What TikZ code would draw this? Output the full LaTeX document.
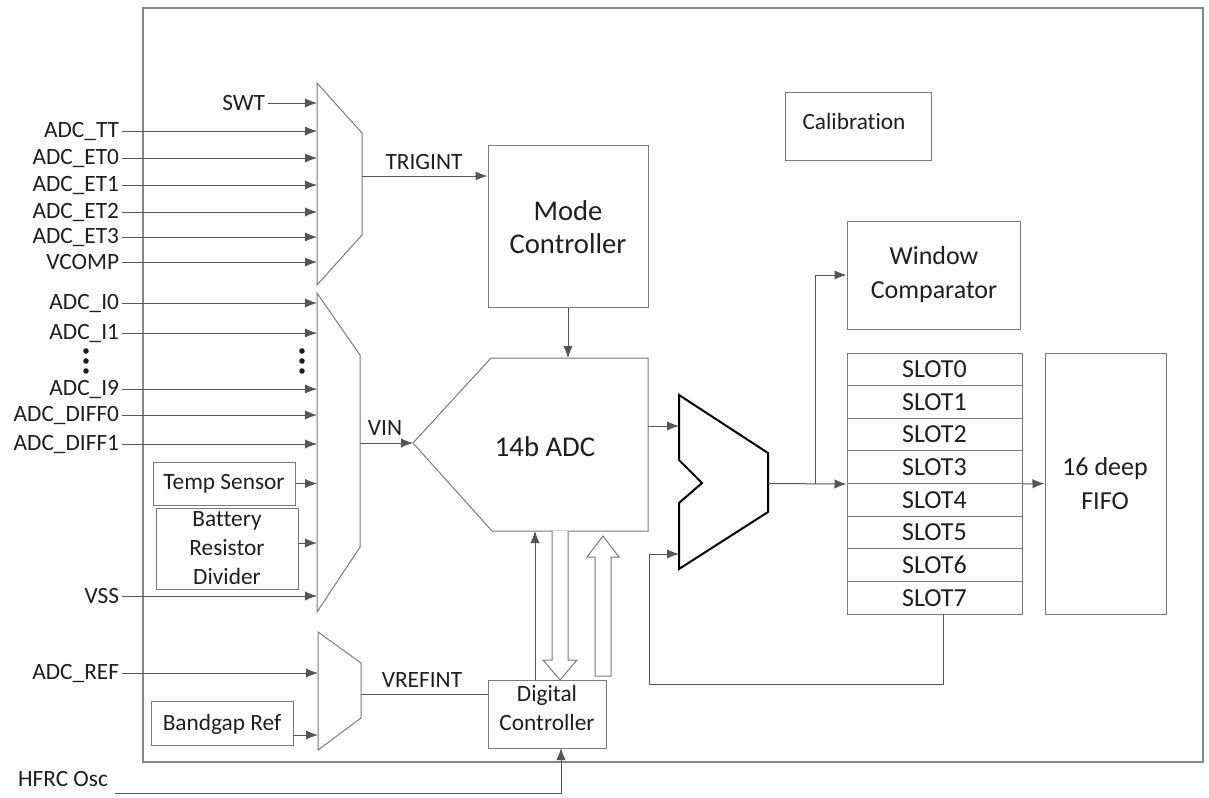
\documentclass[tikz,border=0pt]{standalone}
\usepackage{fontspec}
\setmainfont{Carlito}[Ligatures=NoCommon]
\usetikzlibrary{arrows.meta,fit,calc}
\definecolor{ln}{HTML}{555555}
\definecolor{bx}{HTML}{7A7A7A}
\definecolor{tx}{HTML}{1E1E1E}
\tikzset{
  arr/.style={draw=ln, line width=0.75pt, -{Latex[length=9pt,width=7pt]}},
  wire/.style={draw=ln, line width=0.75pt},
  box/.style={draw=bx, line width=0.75pt, inner sep=0pt},
  txt/.style={text=tx, align=center, inner sep=0pt},
  muxs/.style={draw=bx, line width=0.75pt, fill=white},
  omuxs/.style={draw=black, line width=1.5pt, line join=miter},
  hollow/.style={draw=bx, line width=0.75pt, fill=white},
  lbl/.style={text=tx, font=\fontsize{17.5pt}{21pt}\selectfont, inner xsep=2pt, inner ysep=0pt},
  bigf/.style={font=\fontsize{21.5pt}{24.75pt}\selectfont},
  midf/.style={font=\fontsize{19.5pt}{25.5pt}\selectfont},
  smf/.style={font=\fontsize{17.5pt}{22pt}\selectfont},
}
\begin{document}
\begin{tikzpicture}[x=0.75pt,y=-0.75pt]
\useasboundingbox (0,0) rectangle (1209,797);
% outer chip boundary
\node[box, draw=bx!90, line width=1.1pt, fit={(143,8) (1203,762)}] (chip) {};

% ---------- trigger mux ----------
\draw[muxs] (317,83) -- (362,133) -- (362,235) -- (317,285) -- cycle;
\coordinate (m1o) at (362,176);
\node[lbl, anchor=east] (swt) at (268,103) {SWT};
\coordinate (swt-in) at (317,103);
\draw[arr] (swt.east) -- (swt-in);
\foreach \y/\t/\n in {131/ADC\_TT/tt, 158/ADC\_ET0/et0, 185/ADC\_ET1/et1, 212/ADC\_ET2/et2, 237/ADC\_ET3/et3, 262/VCOMP/vcomp}{
  \node[lbl, anchor=east] (\n) at (122,\y) {\t};
  \coordinate (\n-in) at (317,\y);
  \draw[arr] (\n.east) -- (\n-in);
}

% ---------- VIN mux ----------
\draw[muxs] (317,293) -- (360,355) -- (360,547) -- (317,612) -- cycle;
\coordinate (m2x) at (317,443);
\coordinate (m2o) at (360,443);
\foreach \y/\t/\n in {303/ADC\_I0/i0, 333/ADC\_I1/i1, 389/ADC\_I9/i9, 415/ADC\_DIFF0/d0, 444/ADC\_DIFF1/d1, 596/VSS/vss}{
  \node[lbl, anchor=east] (\n) at (122,\y) {\t};
  \coordinate (\n-in) at (317,\y);
  \draw[arr] (\n.east) -- (\n-in);
}
\foreach \x in {86,302}{
  \foreach \y in {351,361,371}{ \fill[tx] (\x,\y) circle[radius=2.1pt]; }
}
\node[box, fit={(153,462) (295,505)}] (temp) {};
\node[txt, smf] (temp-t) at (224,484) {Temp Sensor};
\node[box, fit={(156,508) (298,589)}] (batt) {};
\node[txt, smf] (batt-t) at (227,548) {Battery\\Resistor\\Divider};
\draw[arr] (temp.east) -- (temp.east -| m2x);
\coordinate (batt-o) at (298,543);
\draw[arr] (batt-o) -- (batt-o -| m2x);

% ---------- reference mux ----------
\draw[muxs] (318,632) -- (361,663) -- (361,718) -- (318,750) -- cycle;
\coordinate (m3o) at (361,694);
\node[lbl, anchor=east] (aref) at (122,673) {ADC\_REF};
\coordinate (aref-in) at (318,673);
\draw[arr] (aref.east) -- (aref-in);
\node[box, fit={(151,701) (293,745)}] (bg) {};
\node[txt, smf] (bg-t) at (222,724) {Bandgap Ref};
\coordinate (bg-o) at (293,735);
\coordinate (bg-in) at (318,735);
\draw[arr] (bg-o) -- (bg-in);

% ---------- mode controller ----------
\node[box, fit={(488,145) (648,307)}] (mode) {};
\node[txt, bigf] (mode-t) at (568,227) {Mode\\Controller};
\draw[arr] (m1o) -- (m1o -| mode.west);
\node[lbl] (trigint) at (424,162) {TRIGINT};

% ---------- calibration ----------
\node[box, fit={(785,92) (931,160)}] (calib) {};
\node[txt, smf] (calib-t) at (854,121) {Calibration};

% ---------- ADC ----------
\draw[muxs] (413,443) coordinate (adcL) -- (491,358) -- (648,358) coordinate (adcTR) -- (648,531) -- (492,531) coordinate (adcB) -- cycle;
\node[txt, bigf] (adc) at (545,447) {14b ADC};
\coordinate (adcT) at (568,358);
\draw[arr] (mode.south) -- (adcT);
\draw[arr] (m2o) -- (adcL);
\node[lbl] (vin) at (385,428) {VIN};

% ---------- digital controller ----------
\node[box, fit={(488,680) (606,748)}] (dc) {};
\node[txt, smf] (dc-t) at (547,708) {Digital\\Controller};
\draw[wire] (m3o) -- (m3o -| dc.west);
\node[lbl] (vrefint) at (422,680) {VREFINT};
\coordinate (u1) at (535,680);
\draw[arr] (u1) -- (u1 |- adcB);
% hollow arrows
\draw[hollow] (552,531) -- (552,660) -- (543,660) -- (560,680) -- (577,660) -- (568,660) -- (568,531);
\draw[hollow] (595,676) -- (595,557) -- (587,557) -- (603,536) -- (619,557) -- (611,557) -- (611,676) -- cycle;
% HFRC
\node[lbl] (hfrc) at (63,779) {HFRC Osc};
\coordinate (hf0) at (115,793);
\coordinate (hf1) at (561,748);
\draw[arr] (hf0) -| (hf1);

% ---------- output mux ----------
\draw[omuxs] (679,395) -- (768,453) -- (768,512) -- (679,569) -- (679,503) -- (702,483) -- (679,460) -- cycle;
\coordinate (om-in1) at (679,426);
\coordinate (om-in2) at (679,554);
\coordinate (om-o) at (768,483.5);
\draw[arr] (om-in1 -| adcTR) -- (om-in1);

% ---------- window comparator ----------
\node[box, fit={(847,221) (1020,329)}] (wc) {};
\node[txt, midf] (wc-t) at (934,275) {Window\\Comparator};

% ---------- slots ----------
\foreach \i in {0,...,7}{
  \node[box, fit={(847,{353+32.625*\i}) (1022,{353+32.625*(\i+1)})}] (slot\i) {};
  \node[txt, midf] (slot\i-t) at (slot\i.center) {SLOT\i};
}
\node[box, fit={(1045,353) (1166,614)}] (fifo) {};
\node[txt, midf] (fifo-t) at (1105,484) {16 deep\\FIFO};

\coordinate (br) at (815,483.5);
\draw[arr] (om-o) -- (slot3.south west);
\draw[arr] (br) |- (wc.west);
\draw[arr] (slot3.south east) -- (fifo.west);
\coordinate (fb) at (943,614);
\coordinate (fbc) at (649,684);
\draw[wire] (fb) |- (fbc);
\draw[arr] (fbc) |- (om-in2);
\end{tikzpicture}
\end{document}
